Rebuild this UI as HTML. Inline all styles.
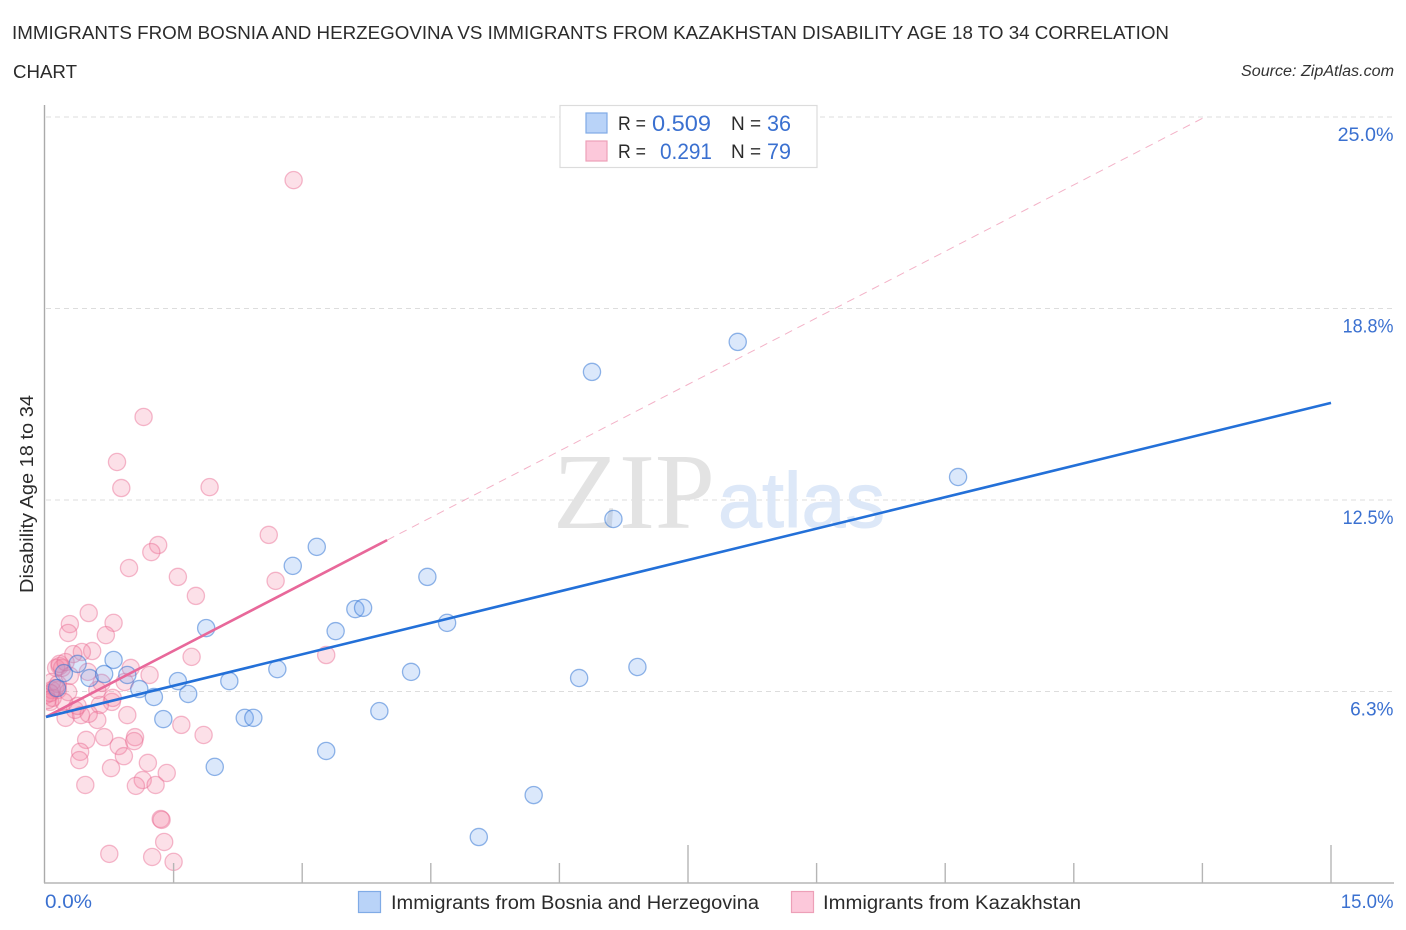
<!DOCTYPE html>
<html lang="en">
<head>
<meta charset="utf-8">
<title>Immigrants from Bosnia and Herzegovina vs Immigrants from Kazakhstan Disability Age 18 to 34 Correlation Chart</title>
<style>
  html, body { margin: 0; padding: 0; background: #fff; }
  svg { display: block; font-family: "Liberation Sans", sans-serif; }
</style>
</head>
<body>
<svg id="chart" xmlns="http://www.w3.org/2000/svg" width="1406" height="930" viewBox="0 0 1406 930">
  <defs>
    <clipPath id="plot-clip"><rect x="46" y="100" width="1360" height="783"></rect></clipPath>
  </defs>
  <text x="12" y="39" font-size="18.5" fill="#2b2b2b" textLength="1157" lengthAdjust="spacingAndGlyphs">IMMIGRANTS FROM BOSNIA AND HERZEGOVINA VS IMMIGRANTS FROM KAZAKHSTAN DISABILITY AGE 18 TO 34 CORRELATION</text>
  <text x="13" y="78" font-size="18.5" fill="#2b2b2b" textLength="64" lengthAdjust="spacingAndGlyphs">CHART</text>
  <text x="1241" y="76" font-size="15.5" font-style="italic" fill="#333" textLength="153" lengthAdjust="spacingAndGlyphs">Source: ZipAtlas.com</text>

  <g id="grid"></g>

  <text x="553" y="528" font-family="'Liberation Serif', serif" font-size="108" fill="#e3e3e3" textLength="162" lengthAdjust="spacingAndGlyphs">ZIP</text>
  <text x="718" y="527" font-size="78" fill="#dde8f8" stroke="#dde8f8" stroke-width="1" textLength="167" lengthAdjust="spacingAndGlyphs">atlas</text>

  <g id="points" clip-path="url(#plot-clip)"></g>
  <g id="trends"></g>

  <g id="axes">
    <line x1="44.5" y1="105" x2="44.5" y2="883" stroke="#aaa" stroke-width="1.4"></line>
    <line x1="44" y1="883" x2="1394" y2="883" stroke="#b5b5b5" stroke-width="1.6"></line>
  </g>
  <g id="x-ticks"></g>
  <g id="y-labels"></g>
  <g id="x-labels"></g>

  <text transform="translate(33,593) rotate(-90)" font-size="18" fill="#2b2b2b" textLength="198" lengthAdjust="spacingAndGlyphs">Disability Age 18 to 34</text>

  <g>
    <rect x="560" y="105.5" width="257" height="62" fill="#fff" stroke="#dcdcdc" stroke-width="1.2"></rect>
    <rect x="586" y="113" width="21" height="20" fill="#b9d3f8" stroke="#80abe6" stroke-width="1.2"></rect>
    <text x="618" y="130" font-size="19" fill="#2b2b2b" textLength="28" lengthAdjust="spacingAndGlyphs">R =</text>
    <text x="652" y="131" font-size="22" fill="#3a70d0" textLength="59" lengthAdjust="spacingAndGlyphs">0.509</text>
    <text x="731" y="130" font-size="19" fill="#2b2b2b">N =</text>
    <text x="767" y="131" font-size="22" fill="#3a70d0" textLength="24" lengthAdjust="spacingAndGlyphs">36</text>
    <rect x="586" y="141" width="21" height="20" fill="#fcc8da" stroke="#eda0b8" stroke-width="1.2"></rect>
    <text x="618" y="158" font-size="19" fill="#2b2b2b" textLength="28" lengthAdjust="spacingAndGlyphs">R =</text>
    <text x="660" y="159" font-size="22" fill="#3a70d0" textLength="52" lengthAdjust="spacingAndGlyphs">0.291</text>
    <text x="731" y="158" font-size="19" fill="#2b2b2b">N =</text>
    <text x="767" y="159" font-size="22" fill="#3a70d0" textLength="24" lengthAdjust="spacingAndGlyphs">79</text>
  </g>

  <g>
    <rect x="358.5" y="891.5" width="22" height="21" fill="#b9d3f8" stroke="#80abe6" stroke-width="1.2"></rect>
    <text x="391" y="909" font-size="19" fill="#2b2b2b" textLength="368" lengthAdjust="spacingAndGlyphs">Immigrants from Bosnia and Herzegovina</text>
    <rect x="791.5" y="891.5" width="22" height="21" fill="#fcc8da" stroke="#eda0b8" stroke-width="1.2"></rect>
    <text x="823" y="909" font-size="19" fill="#2b2b2b" textLength="258" lengthAdjust="spacingAndGlyphs">Immigrants from Kazakhstan</text>
  </g>
</svg>

<script>
// Chart data (values in percent)
const xTickValues = [0, 1.5, 3, 4.5, 6, 7.5, 9, 10.5, 12, 13.5, 15];
const yTickValues = [25, 18.75, 12.5, 6.25];
const yTickLabels = ['25.0%', '18.8%', '12.5%', '6.3%'];
const xEdgeValues = [0, 15];
const xEdgeLabels = ['0.0%', '15.0%'];

const bosniaX = [8.08, 6.38, 10.65, 6.63, 3.17, 2.89, 4.46, 3.62, 3.71, 4.69, 3.39, 1.88, 0.80, 6.91, 2.71, 4.27, 6.23, 1.55, 2.15, 0.96, 0.52, 0.22, 0.69, 1.10, 1.67, 1.27, 3.90, 1.38, 2.33, 2.43, 1.98, 3.28, 5.70, 5.06, 0.38, 0.14];
const bosniaY = [17.66, 16.68, 13.25, 11.88, 10.97, 10.35, 9.99, 8.94, 8.98, 8.49, 8.22, 8.32, 7.28, 7.05, 6.98, 6.89, 6.69, 6.59, 6.59, 6.79, 6.69, 6.85, 6.82, 6.33, 6.17, 6.07, 5.61, 5.35, 5.39, 5.39, 3.79, 4.31, 2.87, 1.50, 7.15, 6.36];

const kazakhstanX = [2.90, 1.15, 0.84, 0.89, 1.92, 2.61, 1.32, 1.24, 0.98, 1.55, 2.69, 1.76, 0.51, 0.80, 0.29, 0.27, 0.71, 0.55, 0.43, 0.33, 1.71, 3.28, 1.22, 1.00, 0.93, 0.78, 0.79, 0.64, 0.61, 0.66, 0.50, 0.96, 0.61, 0.24, 0.42, 0.51, 0.35, 1.59, 1.85, 0.48, 0.69, 1.05, 1.04, 0.86, 0.41, 0.40, 0.92, 1.20, 0.77, 1.42, 1.14, 1.29, 1.06, 0.47, 1.35, 1.36, 1.39, 0.75, 1.25, 1.50, 0.01, 0.06, 0.08, 0.12, 0.15, 0.17, 0.13, 0.20, 0.03, 0.09, 0.17, 0.27, 0.22, 0.08, 0.15, 0.29, 0.38, 0.24, 0.06];
const kazakhstanY = [22.94, 15.21, 13.74, 12.89, 12.92, 11.36, 11.03, 10.80, 10.28, 9.99, 9.86, 9.37, 8.81, 8.49, 8.45, 8.16, 8.09, 7.57, 7.54, 7.47, 7.38, 7.44, 6.79, 7.02, 6.56, 5.91, 6.04, 5.81, 6.30, 6.53, 6.89, 5.48, 5.32, 5.39, 5.48, 5.52, 5.65, 5.16, 4.83, 4.67, 4.76, 4.76, 4.63, 4.47, 4.28, 4.01, 4.14, 3.92, 3.75, 3.59, 3.36, 3.20, 3.17, 3.20, 2.09, 2.06, 1.34, 0.95, 0.85, 0.69, 6.14, 5.91, 6.30, 6.36, 6.30, 7.08, 7.02, 7.02, 5.97, 6.04, 7.15, 6.23, 5.91, 6.56, 6.49, 6.76, 5.78, 7.21, 6.20];

const bosniaTrendX = [0, 15];
const bosniaTrendY = [5.42, 15.67];
const kazakhstanTrendX = [0, 3.99];
const kazakhstanTrendY = [5.42, 11.19];
const kazakhstanExtensionX = [3.99, 13.53];
const kazakhstanExtensionY = [11.19, 25];

// Axis functions
const xScale = function (v) { return 45 + v * (1286 / 15); };
const yScale = function (v) { return 883 - v * (766 / 25); };

const NS = 'http://www.w3.org/2000/svg';
function make(tag, parentId, attrs) {
  const el = document.createElementNS(NS, tag);
  Object.keys(attrs).forEach(function (k) { el.setAttribute(k, attrs[k]); });
  document.getElementById(parentId).appendChild(el);
  return el;
}

// Width of a percent label, matching the reference's wider zero and narrow one
function labelWidth(str) {
  let w = 0;
  for (const c of str) {
    if (c === '0') w += 12.5;
    else if (c === '1') w += 7.5;
    else if (c === '.') w += 5;
    else if (c === '%') w += 17;
    else w += 10.7;
  }
  return w;
}

// Grid lines and y labels
yTickValues.forEach(function (v, i) {
  const grid = make('line', 'grid', { x1: 46, x2: 1393, y1: yScale(v), y2: yScale(v), stroke: '#dddddd', 'stroke-width': 1, 'stroke-dasharray': '5 4' });
  
  
  const w = labelWidth(yTickLabels[i]);
  const label = make('text', 'y-labels', { x: 1393.5 - w, y: yScale(v) + 24, 'font-size': 19.4, fill: '#3a70d0', textLength: w, lengthAdjust: 'spacingAndGlyphs' });
  label.textContent = yTickLabels[i];
  
  
});

// X ticks
xTickValues.forEach(function (v, i) {
  if (i === 0) return;
  const tall = i % 5 === 0;
  const tick = make('line', 'x-ticks', { x1: xScale(v), x2: xScale(v), y1: tall ? 845 : 863, y2: 883, stroke: '#b5b5b5', 'stroke-width': 1.4 });
  
  
});

// X labels
xEdgeValues.forEach(function (v, i) {
  const w = labelWidth(xEdgeLabels[i]);
  const label = make('text', 'x-labels', { x: i === 0 ? xScale(v) : 1393.5 - w, y: 908, 'font-size': 19.4, fill: '#3a70d0', textLength: w, lengthAdjust: 'spacingAndGlyphs' });
  label.textContent = xEdgeLabels[i];
  
  
});

// Points
kazakhstanX.forEach(function (v, i) {
  const dot = make('circle', 'points', { cx: xScale(v), cy: yScale(kazakhstanY[i]), r: 8.6, fill: 'rgba(244,130,165,0.25)', stroke: 'rgba(232,105,145,0.45)', 'stroke-width': 1.3 });
  
  
});
bosniaX.forEach(function (v, i) {
  const dot = make('circle', 'points', { cx: xScale(v), cy: yScale(bosniaY[i]), r: 8.6, fill: 'rgba(110,165,240,0.25)', stroke: 'rgba(40,110,210,0.5)', 'stroke-width': 1.3 });
  
  
});

// Trend lines
const extension = make('line', 'trends', { x1: xScale(kazakhstanExtensionX[0]), y1: yScale(kazakhstanExtensionY[0]), x2: xScale(kazakhstanExtensionX[1]), y2: yScale(kazakhstanExtensionY[1]), stroke: '#ec7fa3', 'stroke-width': 1, 'stroke-dasharray': '8 6', opacity: 0.6 });



const pinkTrend = make('line', 'trends', { x1: xScale(kazakhstanTrendX[0]) + 1, y1: yScale(kazakhstanTrendY[0]), x2: xScale(kazakhstanTrendX[1]), y2: yScale(kazakhstanTrendY[1]), stroke: '#e8689a', 'stroke-width': 2.6 });



const blueTrend = make('line', 'trends', { x1: xScale(bosniaTrendX[0]) + 1, y1: yScale(bosniaTrendY[0]), x2: xScale(bosniaTrendX[1]), y2: yScale(bosniaTrendY[1]), stroke: '#2370d8', 'stroke-width': 2.6 });


</script>
</body>
</html>
